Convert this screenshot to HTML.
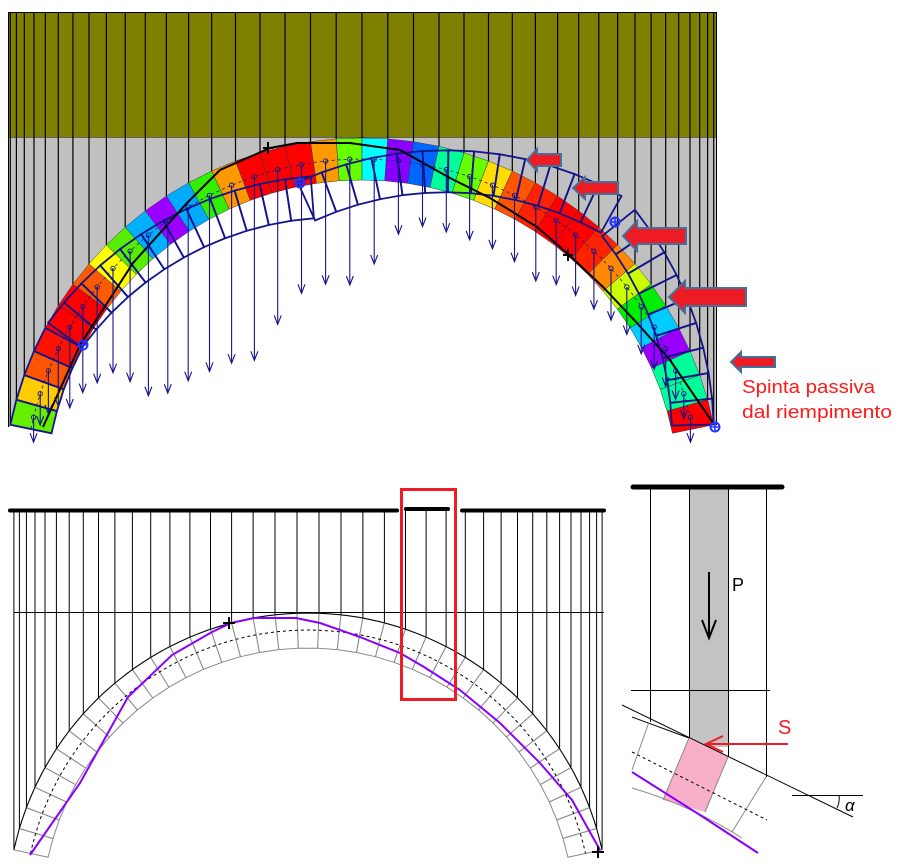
<!DOCTYPE html>
<html><head><meta charset="utf-8">
<style>
html,body{margin:0;padding:0;background:#fff;}
svg{display:block;}
text{font-family:"Liberation Sans",sans-serif;}
</style></head>
<body>
<svg id="s" width="901" height="866" viewBox="0 0 901 866" xmlns="http://www.w3.org/2000/svg">
<defs>
<clipPath id="topclip"><rect x="8" y="12" width="709" height="460"/></clipPath>
</defs>
<g id="g1"></g>
<text x="742" y="393" fill="#ff1a1a" font-size="18" textLength="133" lengthAdjust="spacingAndGlyphs">Spinta passiva</text>
<text x="742" y="418" fill="#ff1a1a" font-size="18" textLength="150" lengthAdjust="spacingAndGlyphs">dal riempimento</text>
<text x="732" y="591" fill="#000" font-size="18">P</text>
<text x="778" y="734" fill="#ee1c24" font-size="20">S</text>
<text x="845" y="811" fill="#000" font-size="17" font-family="Liberation Serif" font-style="italic">α</text>
</svg>
<script>
(function(){
var g=document.getElementById('g1');var out=[];
function P(cx,cy,R,t){var a=t*Math.PI/180;return [cx+R*Math.cos(a),cy-R*Math.sin(a)];}
function pts(a){return a.map(function(p){return p[0].toFixed(1)+','+p[1].toFixed(1)}).join(' ');}
function line(a,b,st){out.push('<line x1="'+a[0].toFixed(1)+'" y1="'+a[1].toFixed(1)+'" x2="'+b[0].toFixed(1)+'" y2="'+b[1].toFixed(1)+'" '+st+'/>');}
function rot(p,d,c){var a=d*Math.PI/180,x=p[0]-c[0],y=p[1]-c[1];return [c[0]+x*Math.cos(a)-y*Math.sin(a),c[1]+x*Math.sin(a)+y*Math.cos(a)];}
// ---------- TOP ----------
var cx=362,cy=497,Ri=317,Ro=359,Rm=338,t0=168.4,t1=11.6,N=38,dt=(t0-t1)/N;
out.push('<rect x="8.5" y="12.5" width="708" height="125" fill="#808000" stroke="#000"/>');
out.push('<rect x="8.5" y="137.5" width="708" height="290" fill="#c0c0c0"/>');
out.push('<circle cx="'+cx+'" cy="'+cy+'" r="'+Ro+'" fill="#fff" clip-path="url(#topclip)"/>');
out.push('<rect x="8" y="427" width="710" height="60" fill="#fff"/>');
// vertical lines
for(var i=0;i<=N;i++){var p=P(cx,cy,Ro,t0-i*dt);line([p[0],12],p,'stroke="#000" stroke-width="1.2"');}
line([8.5,12],[8.5,427],'stroke="#000"');line([716.5,12],[716.5,425],'stroke="#000"');
var cols=['#66ee00','#ffcc00','#ff5500','#ff1100','#ff0000','#ff0000','#ff5a00','#ffff00','#55ee00','#00b0ff','#9900ff','#00aaff','#33ee00','#ff9900','#ff0000','#ff0000','#ff0000','#ff9900','#66ff00','#00ffff','#8800ff','#0066ff','#00ff99','#66ff00','#ffdd00','#ff5500','#ff2200','#ff0000','#ff0000','#ff2200','#ff8800','#ccff00','#00ee00','#00ccff','#9900ff','#00ff99','#00ff99','#ff0000'];
var quads=[];
for(var i=0;i<N;i++){var a=t0-i*dt,b=a-dt;var q=[P(cx,cy,Ro,a),P(cx,cy,Ro,b),P(cx,cy,Ri,b),P(cx,cy,Ri,a)];quads.push(q);
out.push('<polygon points="'+pts(q)+'" fill="'+cols[i]+'" stroke="#334" stroke-width="0.5"/>');}
// dashed mid line
var md=[];for(var i=0;i<=60;i++)md.push(P(cx,cy,Rm,t0-i*(t0-t1)/60));
out.push('<polyline points="'+pts(md)+'" fill="none" stroke="#1a1a80" stroke-width="0.8" stroke-dasharray="3,3"/>');
// displaced outlines
var H1=[83,345],H2=[300,183],H3=[615,222],H4=[716,425];
function tf(i,p){if(i<4)return p;if(i<16)return rot(p,8,H1);if(i<29){var r=rot(p,-12,H2);return [r[0]+20,r[1]+32];}return rot(p,10,H4);}
for(var i=0;i<N;i++){var q=quads[i].map(function(p){return tf(i,p)});
out.push('<polygon points="'+pts(q)+'" fill="none" stroke="#14148a" stroke-width="1.8"/>');}
// thrust line
var th=[[43,427],[80,345],[133,263],[187,203],[220,170],[270,148],[297,143],[350,143],[400,150],[450,178],[490,198],[537,227],[568,254],[603,287],[637,323],[670,360],[713,423]];
out.push('<polyline points="'+pts(th)+'" fill="none" stroke="#000" stroke-width="2"/>');
// arrows
var sm=[[20,458],[27,440],[35,432],[55,405],[68,410],[85,390],[102,380],[120,368],[140,395],[162,397],[183,383],[208,372],[232,363],[257,360],[282,317],[310,283],[335,285],[362,285],[388,240],[415,225],[440,230],[465,238],[491,248],[515,262],[538,283],[561,285],[582,300],[603,316],[620,325],[638,350],[655,370],[668,390],[680,405],[690,420],[697,440],[705,455]];
function ey(x){for(var k=0;k<sm.length-1;k++){if(x<=sm[k+1][0]){var f=(x-sm[k][0])/(sm[k+1][0]-sm[k][0]);return sm[k][1]+f*(sm[k+1][1]-sm[k][1]);}}return sm[sm.length-1][1];}
for(var i=0;i<N;i++){var c=P(cx,cy,Rm,t0-(i+0.5)*dt);var e=Math.max(ey(c[0]),c[1]+25);
out.push('<circle cx="'+c[0].toFixed(1)+'" cy="'+c[1].toFixed(1)+'" r="2.2" fill="none" stroke="#14148a" stroke-width="0.9"/>');
line(c,[c[0],e],'stroke="#14148a" stroke-width="1.1"');
out.push('<polyline points="'+(c[0]-3.5)+','+(e-9)+' '+c[0]+','+e+' '+(c[0]+3.5)+','+(e-9)+'" fill="none" stroke="#14148a" stroke-width="1.1"/>');}
// hinges
[H1,H2,H3,[715,427]].forEach(function(h){out.push('<circle cx="'+h[0]+'" cy="'+h[1]+'" r="4.5" fill="none" stroke="#2233ff" stroke-width="2"/>');line([h[0]-5,h[1]],[h[0]+5,h[1]],'stroke="#2233ff" stroke-width="1.5"');line([h[0],h[1]-5],[h[0],h[1]+5],'stroke="#2233ff" stroke-width="1.5"');});
// crosses
[[268,148],[568,255]].forEach(function(h){line([h[0]-5,h[1]],[h[0]+5,h[1]],'stroke="#000" stroke-width="2"');line([h[0],h[1]-6],[h[0],h[1]+6],'stroke="#000" stroke-width="2"');});
// red block arrows
[[527,561,160,6,11,10],[573,618,188,6,11,12],[623,686,236,8,15,14],[669,746,297,9,16,16],[731,775,362,5,10,10]].forEach(function(a){var t=a[0],e=a[1],y=a[2],bh=a[3],hh=a[4],hl=a[5];
out.push('<polygon points="'+t+','+y+' '+(t+hl)+','+(y-hh)+' '+(t+hl)+','+(y-bh)+' '+e+','+(y-bh)+' '+e+','+(y+bh)+' '+(t+hl)+','+(y+bh)+' '+(t+hl)+','+(y+hh)+'" fill="#ed1c24" stroke="#41719c" stroke-width="2"/>');});
// ---------- BOTTOM LEFT ----------
var bx=308,by=914,bi=266,bo=301,bm=284,b0=167.7,b1=12.3,M=37,bd=(b0-b1)/M;
for(var i=0;i<=M;i++){var p=P(bx,by,bo,b0-i*bd);line([p[0],510],p,'stroke="#000" stroke-width="1"');}
line([14,612.5],[604,612.5],'stroke="#000" stroke-width="1"');
for(var i=0;i<M;i++){var a=b0-i*bd,b=a-bd;var q=[P(bx,by,bo,a),P(bx,by,bo,b),P(bx,by,bi,b),P(bx,by,bi,a)];
out.push('<polygon points="'+pts(q)+'" fill="#fff" stroke="#888" stroke-width="1"/>');}
var oc=[],mc=[];for(var i=0;i<=80;i++){oc.push(P(bx,by,bo,b0-i*(b0-b1)/80));mc.push(P(bx,by,bm,b0-i*(b0-b1)/80));}
out.push('<polyline points="'+pts(oc)+'" fill="none" stroke="#000" stroke-width="1"/>');
out.push('<polyline points="'+pts(mc)+'" fill="none" stroke="#000" stroke-width="1" stroke-dasharray="3,3"/>');
var pu=[[30,855],[80,783],[128,697],[172,655],[212,632],[231,623],[254,618],[296,618],[320,623],[360,637],[400,653],[424,667],[460,690],[500,723],[540,763],[572,800],[600,850]];
out.push('<polyline points="'+pts(pu)+'" fill="none" stroke="#8800ff" stroke-width="2"/>');
[[229,623],[598,852]].forEach(function(h){line([h[0]-6,h[1]],[h[0]+6,h[1]],'stroke="#000" stroke-width="2"');line([h[0],h[1]-6],[h[0],h[1]+6],'stroke="#000" stroke-width="2"');});
out.push('<line x1="10" y1="510.5" x2="397" y2="510.5" stroke="#000" stroke-width="4" stroke-linecap="round"/>');
out.push('<line x1="406" y1="509" x2="448" y2="509" stroke="#000" stroke-width="4" stroke-linecap="round"/>');
out.push('<line x1="462" y1="510.5" x2="604" y2="510.5" stroke="#000" stroke-width="4" stroke-linecap="round"/>');
out.push('<rect x="401.5" y="489.5" width="54" height="210" fill="none" stroke="#ee1c24" stroke-width="3"/>');
// ---------- DETAIL ----------
out.push('<rect x="689" y="487" width="39" height="260" fill="#c3c3c3"/>');
out.push('<polygon points="622,705 689,737 689,760 622,760" fill="#fff"/>');
out.push('<polygon points="689,737 728,756 728,800 689,800" fill="#fff"/>');
out.push('<polygon points="689,738 728,757 705,812 663,800" fill="#f8afc8"/>');
[650,689,728,766].forEach(function(x,k){var yb=[722,738,757,777][k];line([x+0.5,487],[x+0.5,yb],'stroke="#000" stroke-width="1"');});
line([631,690.5],[770,690.5],'stroke="#000"');
out.push('<line x1="633" y1="487" x2="782" y2="487" stroke="#000" stroke-width="5" stroke-linecap="round"/>');
line([709,572],[709,637],'stroke="#000" stroke-width="2"');
out.push('<polyline points="702,620 709,638 716,620" fill="none" stroke="#000" stroke-width="2"/>');
line([622,705],[853,817],'stroke="#000" stroke-width="1"');
line([632,717],[689,738],'stroke="#000" stroke-width="1"');
line([649,722],[632,770],'stroke="#888"');line([689,738],[663,800],'stroke="#888"');line([728,757],[705,812],'stroke="#888"');line([766,777],[732,832],'stroke="#888"');
out.push('<path d="M632,788 Q690,805 742,838" fill="none" stroke="#888"/>');
line([632,752],[767,820],'stroke="#000" stroke-dasharray="3,3"');
out.push('<path d="M632,772 L700,815 L758,853" fill="none" stroke="#8800ff" stroke-width="2"/>');
line([788,744],[706,744],'stroke="#ee1c24" stroke-width="2"');
out.push('<polyline points="723,736 706,744 723,752" fill="none" stroke="#ee1c24" stroke-width="2"/>');
line([792,795.5],[863,795.5],'stroke="#000"');
out.push('<path d="M839,795 Q840,802 837,808" fill="none" stroke="#000"/>');
g.innerHTML=out.join('');
})();
</script>
</body></html>
